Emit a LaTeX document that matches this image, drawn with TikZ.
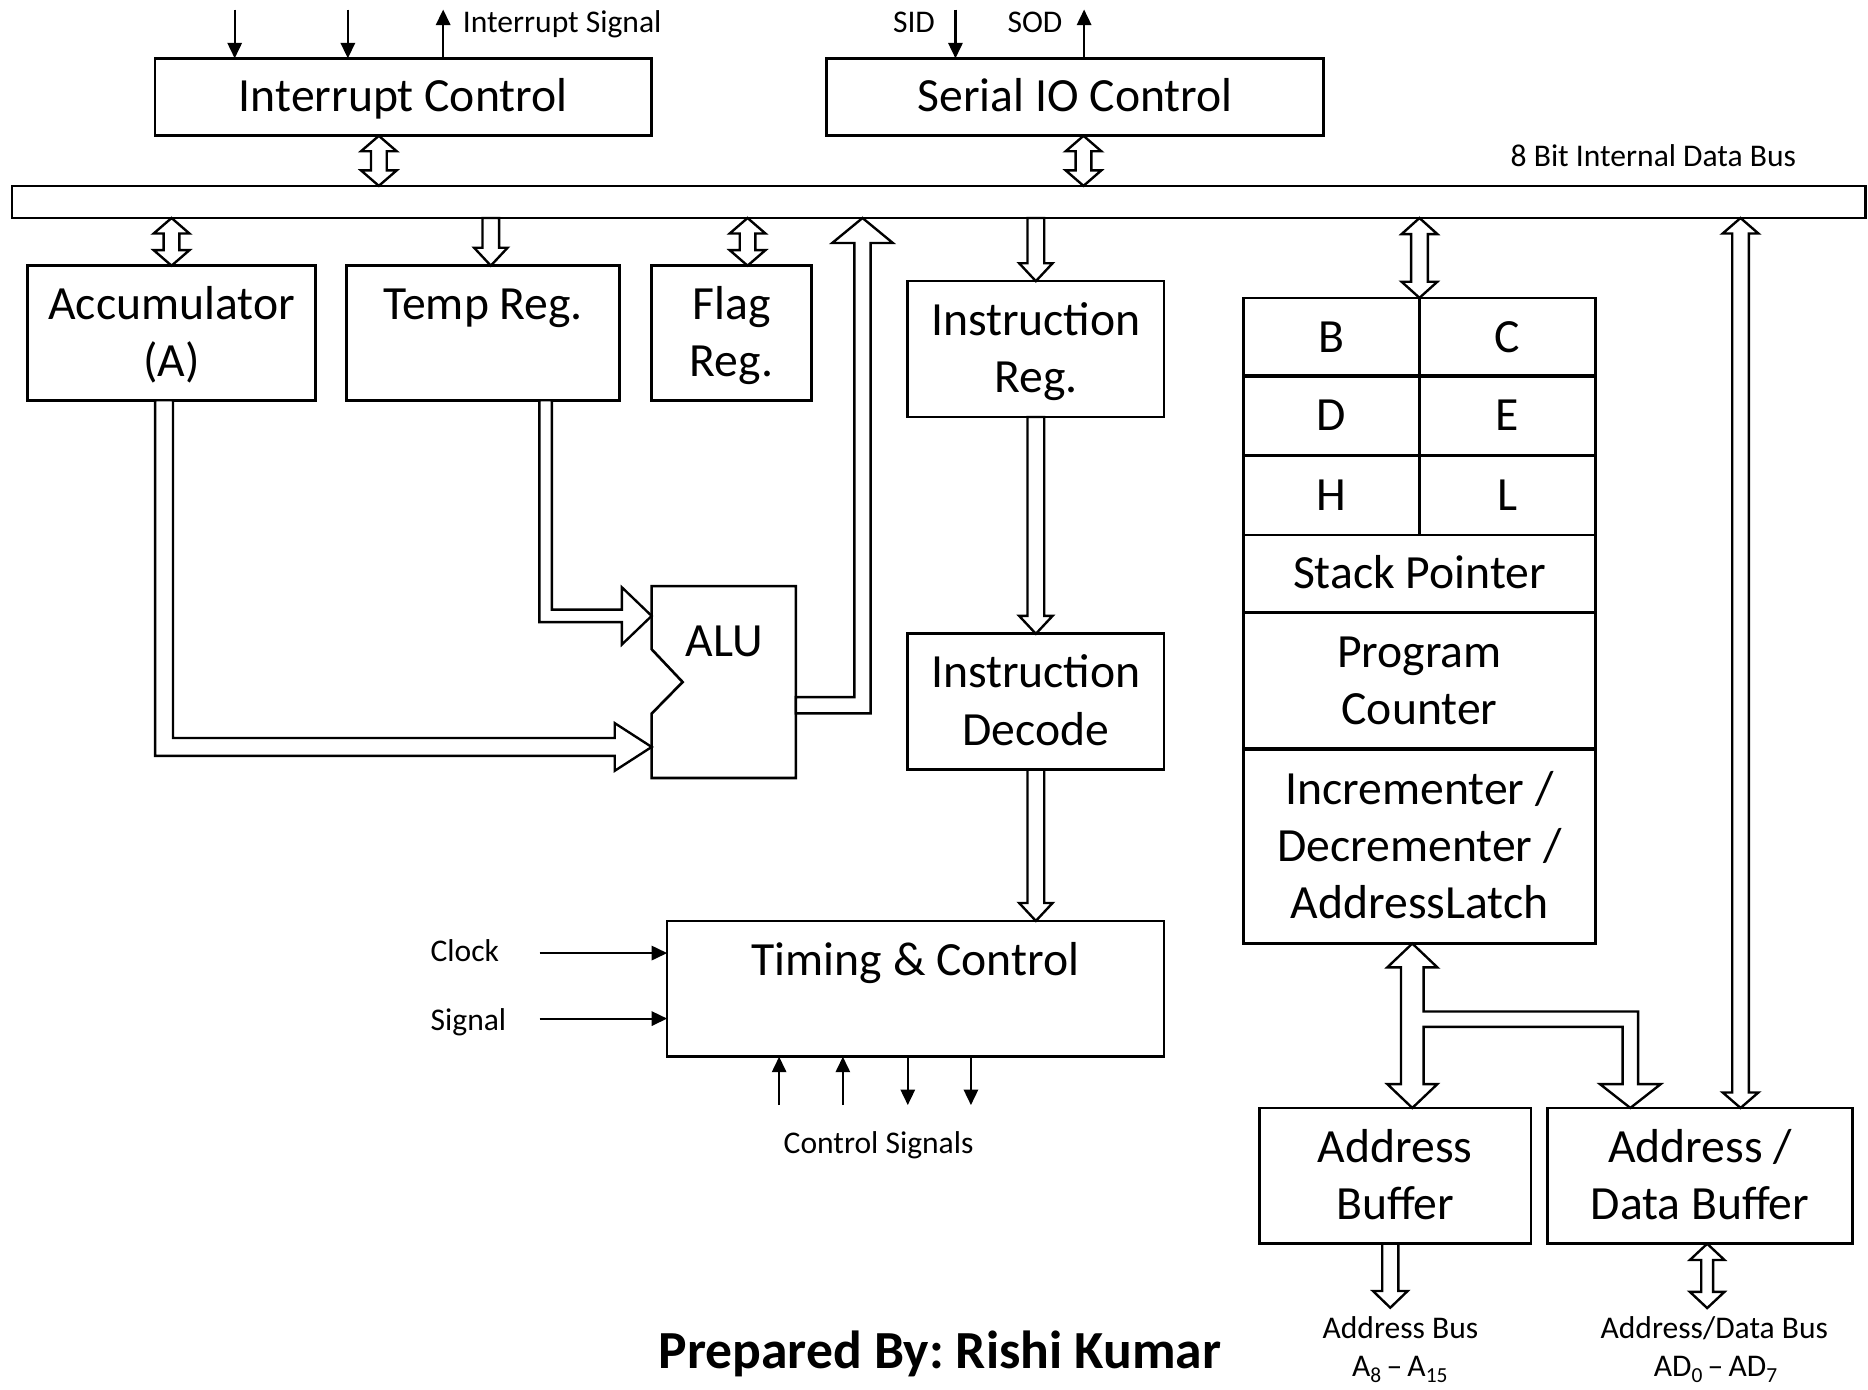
\documentclass[tikz,border=0pt]{standalone}
\usepackage{fontspec}
\setmainfont{Carlito}
\usetikzlibrary{calc,arrows.meta}
\frenchspacing

% line strut: every text line gets the same ascent/descent
\newcommand\ls{\rule[-5.75pt]{0pt}{24pt}}
% lowered index for bus names
\newcommand\lowidx[1]{\raisebox{-2.4pt}{\fontsize{9}{10}\selectfont #1}}

% hollow block arrow from #2 to #3; #1 = 1 (head at #3) or 2 (heads at both ends)
% #4 shaft half width, #5 head half width, #6 head length
\newcommand\blockarrow[6]{%
  \path let \p1=(#2), \p2=(#3) in \pgfextra{%
    \pgfmathsetmacro\baL{veclen(\x2-\x1,\y2-\y1)}%
    \pgfmathsetmacro\baA{atan2(\y2-\y1,\x2-\x1)}%
    \global\let\BAlen\baL
    \global\let\BAang\baA};
  \begin{scope}[shift={(#2)},rotate=\BAang]
    \ifnum#1=2
      \draw[blk] (0pt,0pt) -- (#6,#5) -- (#6,#4) -- ({\BAlen pt-#6},#4) -- ({\BAlen pt-#6},#5)
        -- (\BAlen pt,0pt) -- ({\BAlen pt-#6},-#5) -- ({\BAlen pt-#6},-#4) -- (#6,-#4) -- (#6,-#5) -- cycle;
    \else
      \draw[blk] (0pt,#4) -- ({\BAlen pt-#6},#4) -- ({\BAlen pt-#6},#5) -- (\BAlen pt,0pt)
        -- ({\BAlen pt-#6},-#5) -- ({\BAlen pt-#6},-#4) -- (0pt,-#4) -- cycle;
    \fi
  \end{scope}}

\begin{document}
\begin{tikzpicture}[x=0.5pt,y=-0.5pt,
  box/.style={draw, line width=1.1pt, inner sep=0pt, outer sep=0pt, align=center,
              font=\fontsize{20}{24}\selectfont},
  lbl/.style={inner sep=0pt, outer sep=0pt, font=\fontsize{13.25}{16}\selectfont},
  sig/.style={line width=0.9pt, -{Triangle[width=6pt,length=6.5pt]}},
  blk/.style={draw, fill=white, line width=1pt, line join=miter},
]
\useasboundingbox (0,0) rectangle (1568,1166);

% ---------- blocks ----------
\node[box, minimum width=208.5pt, minimum height=32.5pt] (intc) at (338.5,81.5) {\ls Interrupt Control};
\node[box, minimum width=208.5pt, minimum height=32.5pt] (sio) at (902.5,81.5) {\ls Serial IO Control};
\node[box, minimum width=778pt, minimum height=13.5pt] (bus) at (788,169.5) {};

\node[box, minimum width=121pt, minimum height=56.5pt] (acc) at (144,279.5) {\ls Accumulator\\\ls (A)};
\node[box, minimum width=114.5pt, minimum height=56.5pt] (temp) at (405.5,279.5) {\ls Temp Reg.\\\ls};
\node[box, minimum width=67pt, minimum height=56.5pt] (flag) at (614,279.5) {\ls Flag\\\ls Reg.};
\node[box, minimum width=107.5pt, minimum height=57pt] (ir) at (869.5,293) {\ls Instruction\\\ls Reg.};
\node[box, minimum width=107.5pt, minimum height=57pt] (id) at (869.5,589) {\ls Instruction\\\ls Decode};
\node[box, minimum width=208.5pt, minimum height=57pt] (tc) at (768.5,830) {\ls Timing \& Control\\\ls};

% ALU with its notched input side
\node[minimum width=60.5pt, minimum height=80.5pt, inner sep=0pt, outer sep=0pt] (alu) at (607.5,572.5) {};
\draw[line width=1.1pt] (alu.north west) -- (alu.north east) -- (alu.south east) -- (alu.south west)
  -- ($(alu.west)+(0,26.5)$) -- ($(alu.west)+(26,0)$) -- ($(alu.west)+(0,-27.5)$) -- cycle;
\node[anchor=base, inner sep=0pt, font=\fontsize{20}{24}\selectfont] (alutxt) at (608,551) {ALU};

% register array
\node[box, minimum width=73.75pt, minimum height=33pt] (rB) at (1117.75,283) {\ls B};
\node[box, minimum width=73.75pt, minimum height=33pt] (rC) at (1265.25,283) {\ls C};
\node[box, minimum width=73.75pt, minimum height=33.25pt] (rD) at (1117.75,349.25) {\ls D};
\node[box, minimum width=73.75pt, minimum height=33.25pt] (rE) at (1265.25,349.25) {\ls E};
\node[box, minimum width=73.75pt, minimum height=33.25pt] (rH) at (1117.75,415.75) {\ls H};
\node[box, minimum width=73.75pt, minimum height=33.25pt] (rL) at (1265.25,415.75) {\ls L};
\node[box, minimum width=147.5pt, minimum height=32.5pt] (sp) at (1191.5,481.5) {\ls Stack Pointer};
\node[box, minimum width=147.5pt, minimum height=57.5pt] (pc) at (1191.5,571.5) {\ls Program\\\ls Counter};
\node[box, minimum width=147.5pt, minimum height=81.5pt] (incr) at (1191.5,710.5)
  {\ls Incrementer /\\\ls Decrementer /\\\ls AddressLatch};
\draw[line width=1.7pt] (rB.south west) -- (rC.south east);
\draw[line width=1.5pt] (rD.south west) -- (rE.south east);
\draw[line width=1.4pt] (sp.south west) -- (sp.south east);
\draw[line width=1.8pt] (pc.south west) -- (pc.south east);

\node[box, minimum width=114pt, minimum height=57pt] (ab) at (1171,987) {\ls Address\\\ls Buffer};
\node[box, minimum width=128pt, minimum height=57pt] (adb) at (1427,987) {\ls Address /\\\ls Data Buffer};

% ---------- reference points ----------
\coordinate (cInt) at (318,0);
\coordinate (cSio) at (909.5,0);
\coordinate (cTmp) at (412,0);
\coordinate (cFlg) at (627.5,0);
\coordinate (cAD) at (1461,0);
\coordinate (cAB) at (1167,1097.7);
\coordinate (cADB) at (1433,1098);
\coordinate (cTo) at (458,0);
\coordinate (cOut) at (724,0);
\coordinate (cBr) at (1368.5,0);

\coordinate (tSrc) at (cTo |- temp.south);
\coordinate (aSrc) at ($(acc.south)+(-6.25,0)$);
\coordinate (aluA) at ($(alu.west)+(0,-55.5)$);
\coordinate (aluB) at ($(alu.west)+(0,54.5)$);
\coordinate (aluO) at ($(alu.east)+(0,19.5)$);
\coordinate (oTip) at (cOut |- bus.south);
\coordinate (lTop) at ($(incr.south)+(-6,0)$);
\coordinate (lBot) at (lTop |- ab.north);
\coordinate (bTip) at (cBr |- adb.north);

% ---------- bus connections ----------
\blockarrow{2}{cInt |- intc.south}{cInt |- bus.north}{3.3pt}{7.5pt}{6.5pt}
\blockarrow{2}{cSio |- sio.south}{cSio |- bus.north}{3.3pt}{7.5pt}{6.5pt}
\blockarrow{2}{acc.north |- bus.south}{acc.north}{3.3pt}{7.5pt}{6.5pt}
\blockarrow{1}{cTmp |- bus.south}{cTmp |- temp.north}{3.5pt}{7pt}{7.5pt}
\blockarrow{2}{cFlg |- bus.south}{cFlg |- flag.north}{3.3pt}{7.5pt}{6.5pt}
\blockarrow{1}{ir.north |- bus.south}{ir.north}{3.5pt}{7pt}{7.5pt}
\blockarrow{1}{ir.south}{id.north}{3.5pt}{7pt}{7.5pt}
\blockarrow{1}{id.south}{id.south |- tc.north}{3.5pt}{7pt}{7.5pt}
\blockarrow{2}{rB.north east |- bus.south}{rB.north east}{3.5pt}{7.5pt}{6.75pt}
\blockarrow{2}{cAD |- bus.south}{cAD |- adb.north}{3.5pt}{7.5pt}{6.5pt}
\blockarrow{1}{cAB |- ab.south}{cAB}{3.4pt}{7.25pt}{7pt}
\blockarrow{2}{cADB |- adb.south}{cADB}{2.5pt}{7.25pt}{6.8pt}

% Temp Reg. -> ALU
\draw[blk] ($(tSrc)+(-5.25,0)$) |- ($(aluA)+(-25,5.25)$) -- ($(aluA)+(-25,24)$) -- (aluA)
  -- ($(aluA)+(-25,-24)$) -- ($(aluA)+(-25,-5.25)$) -| ($(tSrc)+(5.25,0)$) -- cycle;
% Accumulator -> ALU
\draw[blk] ($(aSrc)+(-7.5,0)$) |- ($(aluB)+(-31,7.5)$) -- ($(aluB)+(-31,20)$) -- (aluB)
  -- ($(aluB)+(-31,-20)$) -- ($(aluB)+(-31,-7.5)$) -| ($(aSrc)+(7.5,0)$) -- cycle;
% ALU -> data bus
\draw[blk] ($(aluO)+(0,6.8)$) -| ($(oTip)+(6.8,21)$) -- ($(oTip)+(25.5,21)$) -- (oTip)
  -- ($(oTip)+(-25.5,21)$) -- ($(oTip)+(-6.8,21)$) |- ($(aluO)+(0,-6.8)$) -- cycle;
% address latch <-> address buffer, branch to address/data buffer
\draw[blk] (lTop) -- ($(lTop)+(21,20)$) -- ($(lTop)+(9.5,20)$) -- ($(lTop)+(9.5,57)$)
  -| ($(bTip)+(6.5,-20)$) -- ($(bTip)+(25.5,-20)$) -- (bTip) -- ($(bTip)+(-25.5,-20)$)
  -- ($(bTip)+(-6.5,-20)$) |- ($(lTop)+(9.5,70)$) -- ($(lBot)+(9.5,-20)$) -- ($(lBot)+(21,-20)$)
  -- (lBot) -- ($(lBot)+(-21,-20)$) -- ($(lBot)+(-9.5,-20)$) -- ($(lTop)+(-9.5,20)$)
  -- ($(lTop)+(-21,20)$) -- cycle;

% ---------- signal lines ----------
\coordinate (in1) at (197,8);
\coordinate (in2) at (292,8);
\coordinate (isg) at (372,8);
\coordinate (sid) at (802,8);
\coordinate (sod) at (910,8);
\coordinate (clk) at (453,800);
\coordinate (sgl) at (453,855);
\coordinate (cs1) at (654,927.6);
\coordinate (cs2) at (707.5,927.6);
\coordinate (cs3) at (762,927.6);
\coordinate (cs4) at (815,927.6);

\draw[sig] (in1) -- (in1 |- intc.north);
\draw[sig] (in2) -- (in2 |- intc.north);
\draw[sig] (isg |- intc.north) -- (isg);
\draw[sig] (sid) -- (sid |- sio.north);
\draw[sig] (sod |- sio.north) -- (sod);
\draw[sig] (clk) -- (clk -| tc.west);
\draw[sig] (sgl) -- (sgl -| tc.west);
\draw[sig] (cs1) -- (cs1 |- tc.south);
\draw[sig] (cs2) -- (cs2 |- tc.south);
\draw[sig] (cs3 |- tc.south) -- (cs3);
\draw[sig] (cs4 |- tc.south) -- (cs4);

% ---------- labels ----------
\node[lbl, anchor=base west] (lIntSig) at (388.6,27) {Interrupt Signal};
\node[lbl, anchor=base west] (lSid) at (749.6,27) {SID};
\node[lbl, anchor=base west] (lSod) at (845.7,27) {SOD};
\node[lbl, anchor=base east] (lBus) at (1507.6,140) {8 Bit Internal Data Bus};
\node[lbl, anchor=base west] (lClk) at (361.5,807) {Clock};
\node[lbl, anchor=base west] (lSgl) at (361.5,864.6) {Signal};
\node[lbl, anchor=base] (lCtl) at (737.5,968) {Control Signals};
\node[lbl, anchor=base] (lAB1) at (1175.5,1123.4) {Address Bus};
\node[lbl, anchor=base] (lAB2) at (1175,1155.6) {A\lowidx{8}\,–\,A\lowidx{15}};
\node[lbl, anchor=base] (lAD1) at (1439,1123.4) {Address/Data Bus};
\node[lbl, anchor=base] (lAD2) at (1440,1155.6) {AD\lowidx{0}\,–\,AD\lowidx{7}};
\node[anchor=base, inner sep=0pt, font=\fontsize{22.5}{26}\selectfont\bfseries] (credit)
  at (789,1148.6) {Prepared By: Rishi Kumar};
\end{tikzpicture}
\end{document}
